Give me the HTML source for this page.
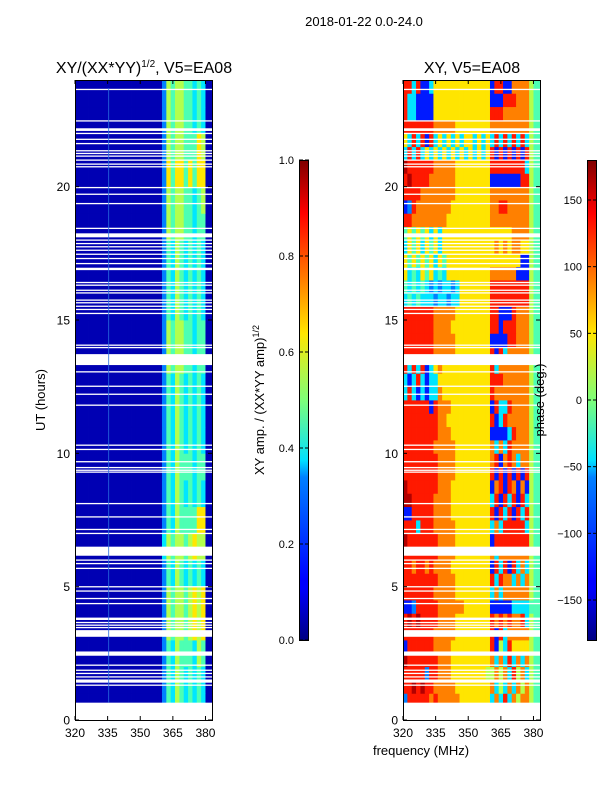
<!DOCTYPE html>
<html><head><meta charset="utf-8"><style>
html,body{margin:0;padding:0;background:#fff;}
svg{display:block;font-family:"Liberation Sans","DejaVu Sans",sans-serif;}
</style></head><body>
<svg id="fig" width="600" height="800" viewBox="0 0 600 800" xmlns="http://www.w3.org/2000/svg">
<defs>
<linearGradient id="jet" x1="0" y1="1" x2="0" y2="0">
<stop offset="0" stop-color="#000080"/><stop offset="0.11" stop-color="#0000ff"/>
<stop offset="0.125" stop-color="#0000ff"/><stop offset="0.34" stop-color="#0080ff"/>
<stop offset="0.375" stop-color="#00e0ff"/><stop offset="0.5" stop-color="#7dff7a"/>
<stop offset="0.64" stop-color="#ffe600"/><stop offset="0.75" stop-color="#ff8000"/>
<stop offset="0.89" stop-color="#ff0000"/><stop offset="1" stop-color="#800000"/>
</linearGradient>
</defs>
<text x="364" y="26" font-size="13" text-anchor="middle">2018-01-22 0.0-24.0</text>
<text x="144" y="73" font-size="16" text-anchor="middle">XY/(XX*YY)<tspan font-size="10" dy="-6">1/2</tspan><tspan dy="6">, V5=EA08</tspan></text>
<text x="472" y="73" font-size="16" text-anchor="middle">XY, V5=EA08</text>
<text x="45" y="400" font-size="13" text-anchor="middle" transform="rotate(-90 45 400)">UT (hours)</text>
<text x="421" y="755" font-size="13" text-anchor="middle">frequency (MHz)</text>
<text x="264" y="400" font-size="13" text-anchor="middle" transform="rotate(-90 264 400)">XY amp. / (XX*YY amp)<tspan font-size="9" dy="-5">1/2</tspan></text>
<g id="left"></g>
<g id="right"></g>
<text x="544" y="400" font-size="13" text-anchor="middle" transform="rotate(-90 544 400)">phase (deg.)</text>
<g id="axes"></g>
</svg>
<script>
// ---- data ----
const hourTicks = [0, 5, 10, 15, 20];
const freqTicks = [320, 335, 350, 365, 380];
const ampTicks = [0.0, 0.2, 0.4, 0.6, 0.8, 1.0];
const phaseTicks = [-150, -100, -50, 0, 50, 100, 150];
// amplitude rows, one per hour (0..23), 32 channels of 2 MHz from 320 MHz; value = d/10 - 0.05
const ampRows = [
"11111111111111111111354654545411","11111111111111111111354654545411","11111111111111111111354655546511",
"11111111111111111111365665676711","11111111111111111111365665676711","11111111111111111111354654545411",
"11111111111111111111465665676611","11111111111111111111354655557711","11111111111111111111354654545411",
"11111111111111111111354655545511","11111111111111111111354654545411","11111111111111111111354654545411",
"11111111111111111111354654545411","11111111111111111111365665545511","11111111111111111111365665545511",
"11111111111111111111354654545411","11111111111111111111354654545411","11111111111111111111354654545411",
"11111111111111111111365665545511","11111111111111111111365665545611","11111111111111111111375775757711",
"11111111111111111111365665557611","11111111111111111111365665545411","11111111111111111111365665545411"];
// phase rows, one per half hour (0..24h), 32 channels; colour value = d/10 + 0.05
const phaseRows = [
"88888877777776666666575857377544","28888878777776666666373837577544","88989887777766666666735373757544",
"88888288777666666665575738573544","98888888777666666666737383737544","18888887777666666666815386666544",
"88888887777766666666818377777544","89898888777766666666878787783544","11288888777777666666111113333444",
"88888887777766666666373777777544","88888888777766666666838773737544","88788787777666666666183818373544",
"88888888777766666666737777777544","98888888777766666666188888888544","88838887777766666666373888883544",
"11888887777666666666818381838544","99888887777666666666381838183544","98888888777666666666178187171544",
"88888888777766666666818181818544","88888888777766666666781787377544","88888887777766666666737387777544",
"88888888777666666666111138777544","88888888776666666666813877777544","88888818777666666666183387777544",
"38313133766666666666877777777544","31383133666666666666888777777544","83838136766666666666837777777544",
"88888887777766666666818377777544","88888887777766666666111188777544","88888887777666666666881888777544",
"88888887777766666666881118777544","34343332332336666666888888888544","43434323233236666666888888888544",
"63436463436666666666777777111544","64646463646666666666666666611544","36463646366666666666676767766544",
"46464636366666666666666667777544","88777777776666666666777777777544","12877777777666666666778877777544",
"88887777777766666666777777777544","89888877777766666666111111188544","98888887777766666666888888883544",
"38383636363636363636818181818544","63838183636363663636383838383544","88888887777766666666777777777544",
"83311116666666666666888777777544","83311116666666666666111888777544","88381136666666666666188117777544"];
// flagged (blank) time ranges, hours
const flagStart = [23.63,22.45,22.09,21.98,21.76,21.6,21.33,21.23,21.13,20.98,20.83,20.73,19.95,19.7,19.35,18.42,18.1,17.98,17.85,17.73,17.6,17.45,17.29,17.1,16.87,16.39,16.29,16.1,16.0,15.73,15.63,15.5,15.38,15.23,14.04,13.95,13.31,13.04,12.5,12.2,11.79,10.29,10.13,9.67,9.45,9.35,9.28,8.1,7.6,7.13,6.98,6.16,5.98,5.85,5.67,4.98,4.82,4.54,4.35,3.75,3.64,3.54,3.45,3.12,2.41,2.04,1.85,1.73,1.6,1.4,1.29,0];
const flagEnd   = [23.67,22.49,22.19,22.02,21.8,21.64,21.37,21.27,21.17,21.02,20.87,20.77,19.99,19.74,19.39,18.46,18.25,18.02,17.89,17.77,17.64,17.49,17.33,17.14,16.96,16.43,16.33,16.14,16.04,15.77,15.67,15.54,15.42,15.27,14.08,13.99,13.72,13.08,12.54,12.24,11.83,10.33,10.17,9.71,9.49,9.39,9.32,8.14,7.64,7.17,7.02,6.5,6.02,5.89,5.71,5.02,4.86,4.58,4.39,3.84,3.68,3.58,3.49,3.37,2.57,2.08,1.89,1.77,1.64,1.52,1.33,0.65];

// ---- helpers ----
const NS = "http://www.w3.org/2000/svg";
const T0 = 80, T1 = 720, F0 = 320, F1 = 383;
const yH = h => T1 - (h / 24) * (T1 - T0);
function xF(f, x0) { return x0 + (f - F0) / (F1 - F0) * 137; }
function jet(v) {
  v = Math.max(0, Math.min(1, v));
  const c = x => Math.round(255 * Math.max(0, Math.min(1, x)));
  const r = 1.5 - Math.abs(4 * v - 3), g = 1.5 - Math.abs(4 * v - 2), b = 1.5 - Math.abs(4 * v - 1);
  return `rgb(${c(r)},${c(g)},${c(b)})`;
}
function mk(tag, attrs, parent) {
  const e = document.createElementNS(NS, tag);
  for (const k in attrs) e.setAttribute(k, attrs[k]);
  parent.appendChild(e); return e;
}
function drawHeat(g, rows, hoursPerRow, x0, toV, name) {
  rows.forEach((row, i) => {
    const h0 = i * hoursPerRow, h1 = h0 + hoursPerRow;
    for (let j = 0; j < row.length; j++) {
      const f0 = F0 + j * 2, f1 = Math.min(F1, f0 + 2);
      if (f0 >= F1) continue;
      const xa = xF(f0, x0), xb = xF(f1, x0);
      const r = mk('rect', {x: xa.toFixed(2), y: yH(h1).toFixed(2), width: (xb - xa + 0.4).toFixed(2), height: (yH(h0) - yH(h1) + 0.4).toFixed(2), fill: jet(toV(+row[j]))}, g);
      
      
    }
  });
  flagStart.forEach((s, k) => {
    const e = flagEnd[k];
    const ya = yH(e), yb = yH(s);
    const r = mk('rect', {x: x0, y: ya.toFixed(2), width: 137, height: Math.max(1.3, yb - ya).toFixed(2), fill: '#fff'}, g);
    
    
  });
}
drawHeat(document.getElementById('left'), ampRows, 1, 75, d => d / 10 - 0.05, 'amp-cell');
drawHeat(document.getElementById('right'), phaseRows, 0.5, 403, d => d / 10 + 0.05, 'phase-cell');
{
  const l = mk('line', {x1: xF(335.5, 75), x2: xF(335.5, 75), y1: yH(23.7), y2: yH(0.65), stroke: '#2a6fe0', 'stroke-width': 0.8}, document.getElementById('left'));
  
  
}

const ax = document.getElementById('axes');
function panelAxes(x0, name) {
  const fr = mk('rect', {x: x0 + 0.5, y: T0 + 0.5, width: 137, height: T1 - T0, fill: 'none', stroke: '#000', 'stroke-width': 1}, ax);
  
  
  hourTicks.forEach(h => {
    const y = yH(h);
    mk('line', {x1: x0, x2: x0 + 4, y1: y, y2: y, stroke: '#000'}, ax);
    mk('line', {x1: x0 + 137, x2: x0 + 133, y1: y, y2: y, stroke: '#000'}, ax);
    const t = mk('text', {x: x0 - 5, y: y + 4.5, 'font-size': 12, 'text-anchor': 'end'}, ax);
    t.textContent = h;
    
    
  });
  freqTicks.forEach(f => {
    const x = xF(f, x0);
    mk('line', {x1: x, x2: x, y1: T1, y2: T1 - 4, stroke: '#000'}, ax);
    mk('line', {x1: x, x2: x, y1: T0, y2: T0 + 4, stroke: '#000'}, ax);
    const t = mk('text', {x: x, y: T1 + 17, 'font-size': 12, 'text-anchor': 'middle'}, ax);
    t.textContent = f;
    
    
  });
}
panelAxes(75, 'amp-panel');
panelAxes(403, 'phase-panel');

function colorbar(x0, ticks, lo, hi, fmt, name) {
  const cb = mk('rect', {x: x0 + 0.5, y: 160.5, width: 9, height: 480, fill: 'url(#jet)', stroke: '#000', 'stroke-width': 1}, ax);
  
  
  ticks.forEach(v => {
    const y = 640 - (v - lo) / (hi - lo) * 480;
    mk('line', {x1: x0, x2: x0 + 4, y1: y, y2: y, stroke: '#000'}, ax);
    mk('line', {x1: x0 + 10, x2: x0 + 6, y1: y, y2: y, stroke: '#000'}, ax);
    const t = mk('text', {x: x0 - 5, y: y + 4, 'font-size': 11, 'text-anchor': 'end'}, ax);
    t.textContent = fmt(v);
    
    
  });
}
colorbar(299, ampTicks, 0, 1, v => v.toFixed(1), 'amp-colorbar');
colorbar(587, phaseTicks, -180, 180, v => v < 0 ? '\u2212' + Math.abs(v) : String(v), 'phase-colorbar');
</script>
</body></html>
